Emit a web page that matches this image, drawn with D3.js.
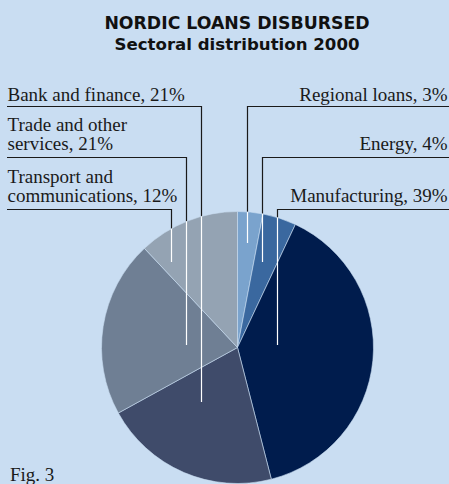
<!DOCTYPE html>
<html>
<head>
<meta charset="utf-8">
<script src="https://cdn.jsdelivr.net/npm/d3@7"></script>
<style>
  html, body { margin: 0; padding: 0; background: #c9ddf2; overflow: hidden; }
</style>
</head>
<body>
<div id="chart"></div>
<script>
// sectors clockwise from 12 o'clock
const sectors = ['Regional loans', 'Energy', 'Manufacturing', 'Bank and finance', 'Trade and other services', 'Transport and communications'];
const shares = [3, 4, 39, 21, 21, 12];
const labelLines = [
  ['Regional loans, 3%'],
  ['Energy, 4%'],
  ['Manufacturing, 39%'],
  ['Bank and finance, 21%'],
  ['Trade and other', 'services, 21%'],
  ['Transport and', 'communications, 12%']
];
const colors = ['#7aa3cd', '#3a689f', '#001c4d', '#3f4b6a', '#6f7f94', '#94a3b3'];

const W = 449, H = 484;
const cx = 237.5, cy = 347.5, r = 136;

const svg = d3.select('#chart')
  .append('svg')
  .attr('width', W)
  .attr('height', H);

svg.append('rect').attr('width', W).attr('height', H).attr('fill', '#c9ddf2');

// title
svg.append('text')
  .attr('x', 237).attr('y', 28.5)
  .attr('text-anchor', 'middle')
  .attr('font-family', 'DejaVu Sans, sans-serif')
  .attr('font-weight', 'bold')
  .attr('font-size', '17.3px')
  .attr('fill', '#111')
  .text('NORDIC LOANS DISBURSED');
svg.append('text')
  .attr('x', 237).attr('y', 49.5)
  .attr('text-anchor', 'middle')
  .attr('font-family', 'DejaVu Sans, sans-serif')
  .attr('font-weight', 'bold')
  .attr('font-size', '16.6px')
  .attr('fill', '#111')
  .text('Sectoral distribution 2000');

const pie = d3.pie().sort(null).value(d => d)(shares);
const arc = d3.arc().innerRadius(0).outerRadius(r);

// leader line layout: x of the drop, y of the rule, y where it ends inside the pie
const leaders = [
  { side: 'right', x: 247.5, ruleY: 106.5, endY: 243, baselines: [101] },
  { side: 'right', x: 262.5, ruleY: 157.5, endY: 262, baselines: [150] },
  { side: 'right', x: 277.5, ruleY: 209.5, endY: 345, baselines: [201.5] },
  { side: 'left', x: 201.5, ruleY: 106.5, endY: 402, baselines: [101] },
  { side: 'left', x: 186.5, ruleY: 157.5, endY: 345, baselines: [131, 150] },
  { side: 'left', x: 171.5, ruleY: 209.5, endY: 262, baselines: [182.5, 201.5] }
];

const lg = svg.append('g');
leaders.forEach((l, i) => {
  const x0 = l.side === 'left' ? 7 : W;
  lg.append('path')
    .attr('d', `M${x0},${l.ruleY}H${l.x}V${l.endY}`)
    .attr('fill', 'none')
    .attr('stroke', '#1a1a1a')
    .attr('stroke-width', 1.2);
  const t = svg.append('text')
    .attr('font-family', 'Liberation Serif, Times New Roman, serif')
    .attr('font-size', '19px')
    .attr('fill', '#1a1a1a')
    .attr('text-anchor', l.side === 'left' ? 'start' : 'end');
  labelLines[i].forEach((s, j) => {
    t.append('tspan')
      .attr('x', l.side === 'left' ? 7.5 : 447.5)
      .attr('y', l.baselines[j])
      .text(s);
  });
});

const g = svg.append('g').attr('transform', `translate(${cx},${cy})`);
g.selectAll('path')
  .data(pie)
  .join('path')
  .attr('d', arc)
  .attr('fill', (d, i) => colors[i])
  .attr('stroke', '#c9ddf2')
  .attr('stroke-width', 0.6);

// white part of leaders inside the pie
svg.append('clipPath').attr('id', 'pieClip')
  .append('circle').attr('cx', cx).attr('cy', cy).attr('r', r);
svg.append('g').attr('clip-path', 'url(#pieClip)')
  .selectAll('line')
  .data(leaders)
  .join('line')
  .attr('x1', d => d.x).attr('x2', d => d.x)
  .attr('y1', d => d.ruleY).attr('y2', d => d.endY)
  .attr('stroke', '#ffffff')
  .attr('stroke-width', 1.2);

svg.append('text')
  .attr('x', 10).attr('y', 480.5)
  .attr('font-family', 'Liberation Serif, Times New Roman, serif')
  .attr('font-size', '19px')
  .attr('fill', '#1a1a1a')
  .text('Fig. 3');
</script>
</body>
</html>
